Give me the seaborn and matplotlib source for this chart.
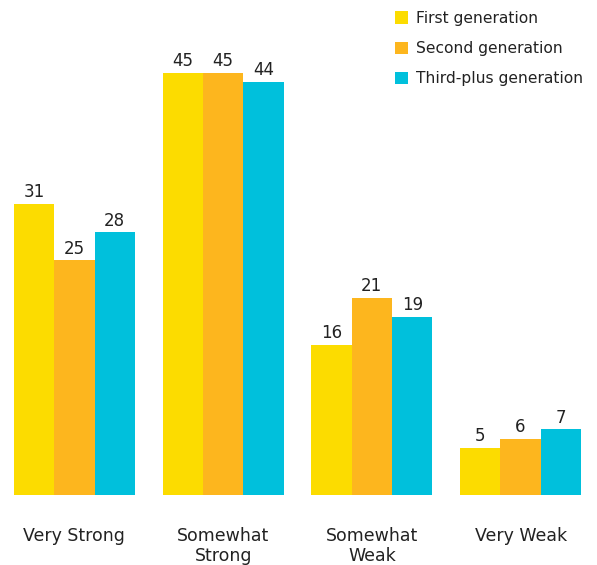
import matplotlib
matplotlib.use("Agg")
import matplotlib.pyplot as plt
import seaborn as sns
import pandas as pd

categories = ["Very Strong", "Somewhat\nStrong", "Somewhat\nWeak", "Very Weak"]
series_names = ["First generation", "Second generation", "Third-plus generation"]
first_gen = [31, 45, 16, 5]
second_gen = [25, 45, 21, 6]
third_gen = [28, 44, 19, 7]
colors = ["#FCDC00", "#FDB61E", "#00C0DC"]

rows = []
for name, vals in zip(series_names, [first_gen, second_gen, third_gen]):
    for c, v in zip(categories, vals):
        rows.append({"category": c, "series": name, "value": v})
df = pd.DataFrame(rows)

sns.set_theme(style="white")
plt.rcParams["font.family"] = ["DejaVu Sans"]

fig = plt.figure(figsize=(5.97, 5.65), dpi=100)
ax = fig.add_axes([0.0, 70 / 565, 595 / 597, 495 / 565])
sns.barplot(data=df, x="category", y="value", hue="series", palette=colors,
            width=0.815, saturation=1, ax=ax, legend=False, linewidth=0)
ax.set_ylim(0, 52.77)
ax.set_xlim(-0.5, 3.5)
for cont in ax.containers:
    ax.bar_label(cont, padding=2, fontsize=12, color="#222222")
ax.set_xlabel("")
ax.set_ylabel("")
ax.set_yticks([])
ax.tick_params(axis="x", length=0, pad=23, labelsize=12.5, labelcolor="#222222")
for lbl in ax.get_xticklabels():
    lbl.set_linespacing(1.15)
for s in ax.spines.values():
    s.set_visible(False)

from matplotlib.patches import Patch
handles = [Patch(facecolor=c, edgecolor="none") for c in colors]
leg = fig.legend(handles, series_names, loc="upper left", bbox_to_anchor=(384 / 597, 1 - 0 / 565),
                 frameon=False, fontsize=11.2, handlelength=0.85, handleheight=0.85,
                 handletextpad=0.5, labelspacing=0.98, borderpad=0.2)
for t in leg.get_texts():
    t.set_color("#222222")

fig.savefig("out.png", dpi=100)
